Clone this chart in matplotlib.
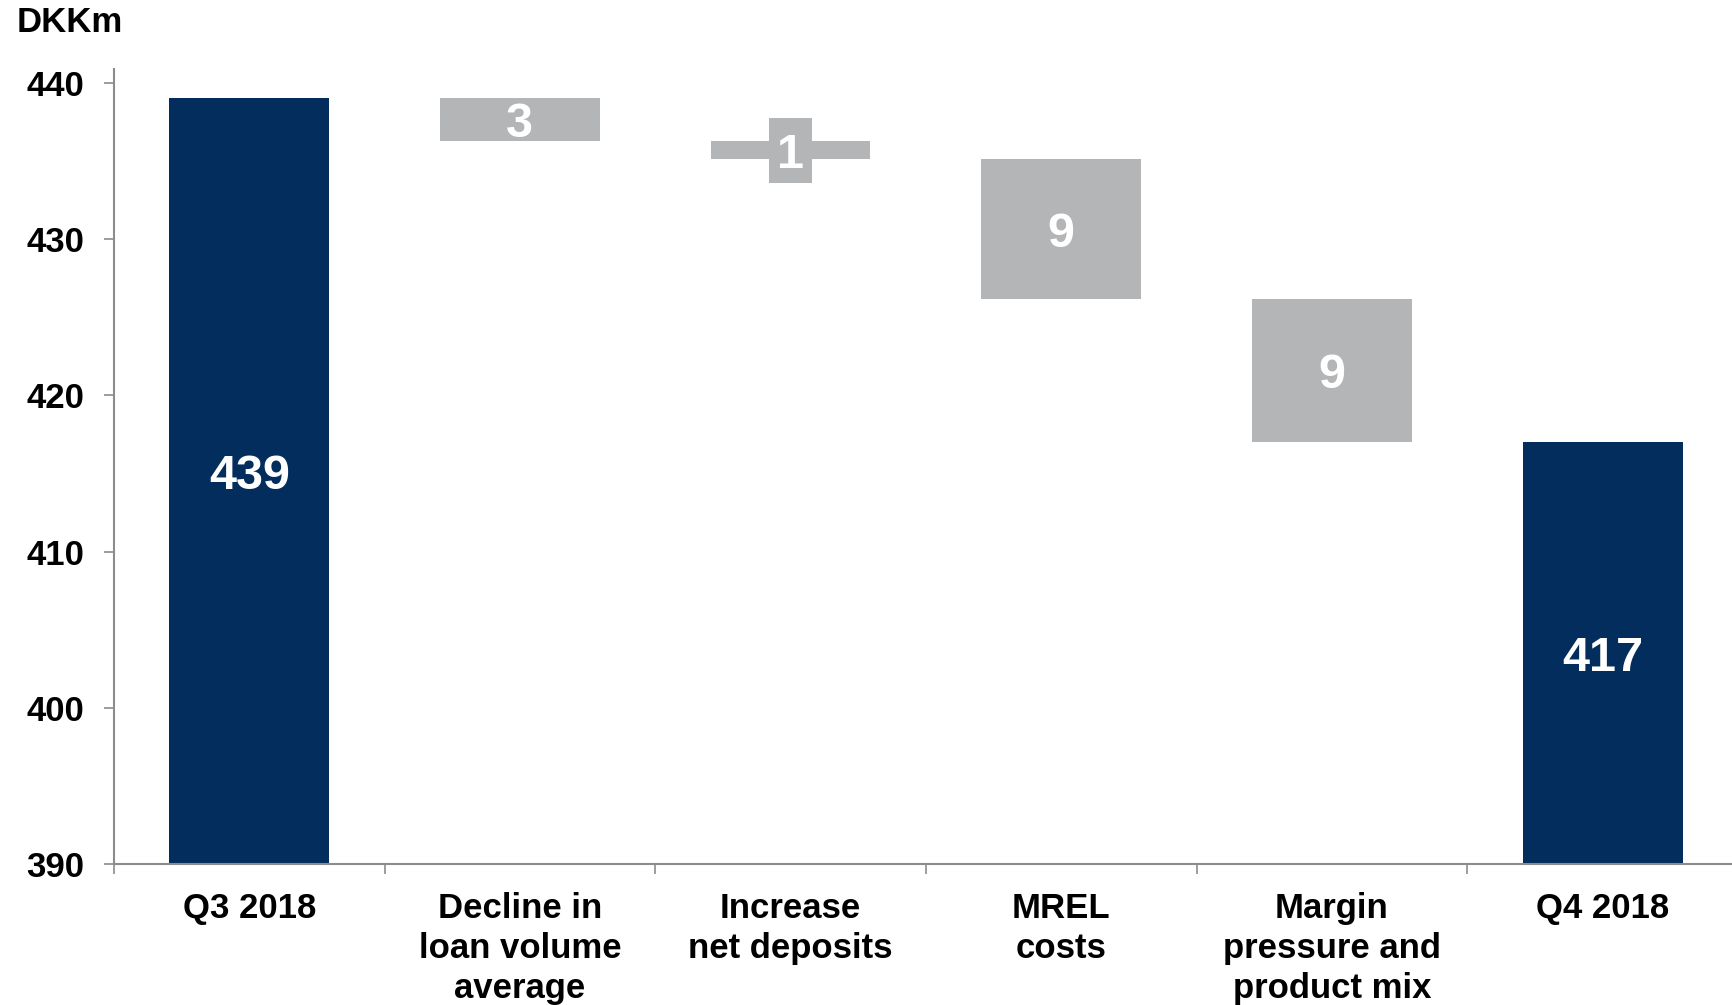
import matplotlib
matplotlib.use("Agg")
import matplotlib.pyplot as plt
from matplotlib.patches import Rectangle

plt.rcParams['font.family'] = ['Liberation Sans', 'DejaVu Sans']

# data
categories = ["Q3 2018", "Decline in\nloan volume\naverage", "Increase\nnet deposits",
              "MREL\ncosts", "Margin\npressure and\nproduct mix", "Q4 2018"]
start_value = 439.0
end_value = 417.0
changes = [-2.76, -1.15, -8.95, -9.14]
labels = ["439", "3", "1", "9", "9", "417"]

navy = "#022d5d"
grey = "#b4b5b7"
axis_grey = "#8c8c8c"

fig = plt.figure(figsize=(17.33, 10.05), dpi=100)
ax = fig.add_axes([0.0657, 0.14, 0.9372, 0.7918])

base = 390
width = 0.59

# totals
ax.bar(0, start_value - base, bottom=base, width=width, color=navy)
ax.bar(5, end_value - base, bottom=base, width=width, color=navy)
ax.text(0, (start_value + base) / 2 + 0.6, labels[0], ha='center', va='center_baseline',
        color='white', fontsize=35, fontweight='bold')
ax.text(5, (end_value + base) / 2, labels[5], ha='center', va='center_baseline',
        color='white', fontsize=35, fontweight='bold')

# steps
level = start_value
for i, d in enumerate(changes):
    x = i + 1
    ax.bar(x, d, bottom=level, width=width, color=grey)
    mid = level + d / 2
    if abs(d) < 2:
        # small step: label sits on its own grey box
        ax.add_patch(Rectangle((x - 0.079, mid - 2.1), 0.158, 4.2,
                               facecolor=grey, edgecolor='none', zorder=3))
    ax.text(x, mid, labels[x], ha='center', va='center_baseline', color='white',
            fontsize=35, fontweight='bold', zorder=4)
    level += d

ax.set_xlim(-0.5, 5.5)
ax.set_ylim(390, 440.9)
ax.set_yticks([390, 400, 410, 420, 430, 440])
ax.tick_params(axis='y', length=7, width=1.2, color=axis_grey, pad=14,
               labelsize=25)
for t in ax.get_yticklabels():
    t.set_fontweight('bold')

# boundary ticks and centred labels
ax.set_xticks([i - 0.5 for i in range(6)])
ax.set_xticklabels([])
ax.tick_params(axis='x', which='major', length=7, width=1.2, color=axis_grey)
ax.set_xticks(range(6), minor=True)
ax.set_xticklabels(categories, minor=True, fontsize=25, fontweight='bold',
                   linespacing=1.27)
ax.tick_params(axis='x', which='minor', length=0, pad=20)

for s in ['top', 'right']:
    ax.spines[s].set_visible(False)
for s in ['left', 'bottom']:
    ax.spines[s].set_color(axis_grey)
    ax.spines[s].set_linewidth(1.5)

fig.text(0.0096, 0.978, "DKKm", fontsize=25, fontweight='bold', va='center')

fig.savefig("out.png", dpi=100)
